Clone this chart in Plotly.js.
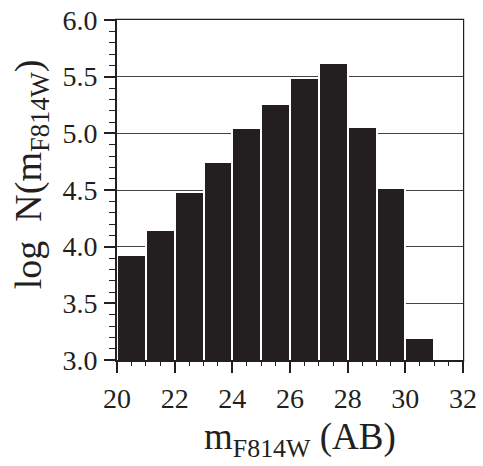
<!DOCTYPE html>
<html>
<head>
<meta charset="utf-8">
<script src="https://cdn.plot.ly/plotly-3.0.1.min.js"></script>
<style>html,body{margin:0;padding:0;background:#fff;}#chart{width:483px;height:466px;}</style>
</head>
<body>
<div id="chart"></div>
<script>
// Bin left edges (magnitude, AB) and histogram heights (log N)
const binLeft = [20, 21, 22, 23, 24, 25, 26, 27, 28, 29, 30];
const logN = [3.93, 4.15, 4.485, 4.75, 5.05, 5.26, 5.49, 5.62, 5.06, 4.515, 3.19];
const binWidth = 1;
const xRange = [20, 32];
const yRange = [3, 6];
const xMajorStep = 2, xMinorStep = 0.5;
const yMajorStep = 0.5, yMinorStep = 0.1;

const ink = '#231f20';
const fontFam = '"Liberation Serif", "Times New Roman", serif';

const trace = {
  type: 'bar',
  x: binLeft,
  y: logN,
  width: binLeft.map(() => binWidth),
  offset: 0,
  marker: {color: ink, line: {color: '#ffffff', width: 2}},
  hoverinfo: 'x+y'
};
// invisible copy on the tick-only overlay axes
const tickTrace = Object.assign({}, trace, {xaxis: 'x2', yaxis: 'y2', opacity: 0, hoverinfo: 'skip'});

// overlay axes whose mirrored ticks land on the bottom / left edges
const tickAxisX = {
  range: xRange, tickmode: 'linear', tick0: xRange[0], dtick: xMajorStep,
  ticks: 'outside', ticklen: 12, tickwidth: 1.5, tickcolor: ink,
  minor: {dtick: xMinorStep, ticks: 'outside', ticklen: 5, tickwidth: 1.2, tickcolor: ink},
  showline: false, showgrid: false, zeroline: false, showticklabels: false,
  overlaying: 'x', side: 'top', anchor: 'y2', mirror: 'ticks'
};
const tickAxisY = {
  range: yRange, tickmode: 'linear', tick0: yRange[0], dtick: yMajorStep,
  ticks: 'outside', ticklen: 12, tickwidth: 1.5, tickcolor: ink,
  minor: {dtick: yMinorStep, ticks: 'outside', ticklen: 7, tickwidth: 1.2, tickcolor: ink},
  showline: false, showgrid: false, zeroline: false, showticklabels: false,
  overlaying: 'y', side: 'right', anchor: 'x2', mirror: 'ticks'
};

const layout = {
  width: 483, height: 466,
  margin: {l: 117, r: 20, t: 20, b: 106},
  paper_bgcolor: '#ffffff', plot_bgcolor: '#ffffff',
  showlegend: false,
  bargap: 0,
  font: {family: fontFam, color: ink},
  xaxis: {
    range: xRange,
    tickmode: 'linear', tick0: xRange[0], dtick: xMajorStep,
    ticks: '', ticklabelstandoff: 12,
    showline: true, linecolor: ink, linewidth: 2, mirror: true,
    showgrid: false, zeroline: false,
    tickfont: {size: 28, family: fontFam, color: ink}
  },
  yaxis: {
    range: yRange,
    tickmode: 'linear', tick0: yRange[0], dtick: yMajorStep, tickformat: '.1f',
    ticks: '', ticklabelstandoff: 12,
    showline: true, linecolor: ink, linewidth: 2, mirror: true,
    showgrid: true, gridcolor: '#444444', gridwidth: 1,
    zeroline: false,
    tickfont: {size: 28, family: fontFam, color: ink}
  },
  xaxis2: tickAxisX,
  yaxis2: tickAxisY,
  // white masks over the top / right margins so only the bottom/left ticks show
  shapes: [
    {type: 'rect', xref: 'paper', yref: 'paper', x0: -0.02, x1: 1.1, y0: 1 + 1.2 / 340, y1: 1.2,
     fillcolor: '#ffffff', line: {width: 0}, layer: 'above'},
    {type: 'rect', xref: 'paper', yref: 'paper', x0: 1 + 1.2 / 346, x1: 1.1, y0: -0.02, y1: 1.2,
     fillcolor: '#ffffff', line: {width: 0}, layer: 'above'}
  ],
  annotations: [
    {
      text: 'm<sub>F814W</sub> (AB)',
      xref: 'paper', yref: 'paper', x: 0.53, y: -0.235,
      xanchor: 'center', yanchor: 'middle', showarrow: false,
      font: {size: 37, family: fontFam, color: ink}
    },
    {
      text: 'log  N(m<sub>F814W</sub>)',
      xref: 'paper', yref: 'paper', x: -0.25, y: 0.545,
      xanchor: 'center', yanchor: 'middle', showarrow: false, textangle: -90,
      font: {size: 38, family: fontFam, color: ink}
    }
  ]
};

Plotly.newPlot('chart', [trace, tickTrace], layout, {displayModeBar: false});
</script>
</body>
</html>
